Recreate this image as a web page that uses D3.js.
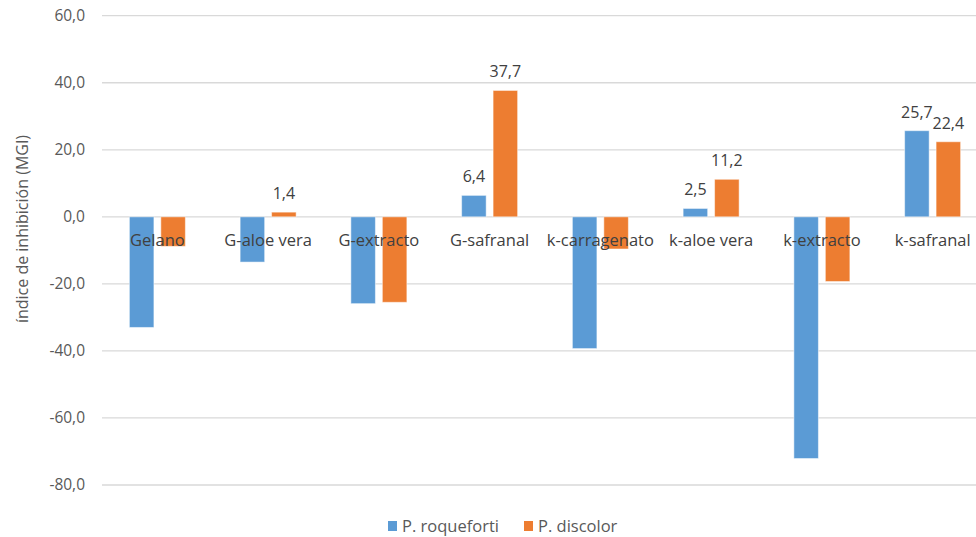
<!DOCTYPE html>
<html>
<head>
<meta charset="utf-8">
<script src="https://cdn.jsdelivr.net/npm/d3@7/dist/d3.min.js"></script>
<style>
  html, body { margin: 0; padding: 0; background: #fff; }
  svg { display: block; font-family: "Open Sans", "DejaVu Sans", sans-serif; }
</style>
</head>
<body>
<svg id="chart" width="976" height="537"></svg>
<script>
// Categories (treatments) and the two fungal series
const categories = ["Gelano", "G-aloe vera", "G-extracto", "G-safranal",
                    "k-carragenato", "k-aloe vera", "k-extracto", "k-safranal"];
const seriesNames = ["P. roqueforti", "P. discolor"];
const roqueforti = [-33.0, -13.5, -25.9, 6.4, -39.3, 2.5, -72.1, 25.7];
const discolor   = [-8.8, 1.4, -25.5, 37.7, -9.6, 11.2, -19.3, 22.4];
const yTicks = [-80, -60, -40, -20, 0, 20, 40, 60];
const colors = ["#5B9BD5", "#ED7D31"];

const svg = d3.select("#chart");

const y = d3.scaleLinear().domain([-80, 60]).range([485, 15.7]);
const x0 = d3.scaleBand().domain(categories).range([102, 988]).padding(0);
const x1 = d3.scaleBand().domain(seriesNames)
  .range([0, x0.bandwidth()]).paddingInner(0.22).paddingOuter(0.87);

const fmt = v => d3.format(".1f")(v).replace(".", ",").replace("−", "-");

// Gridlines
svg.append("g")
  .selectAll("line")
  .data(yTicks)
  .join("line")
  .attr("x1", 102).attr("x2", 976)
  .attr("y1", d => y(d)).attr("y2", d => y(d))
  .attr("stroke", "#D9D9D9").attr("stroke-width", 1.3);

// Y axis labels
const yAxis = d3.axisLeft(y).tickValues(yTicks).tickFormat(fmt).tickSize(0).tickPadding(0);
const gy = svg.append("g").attr("transform", "translate(85,0)").call(yAxis);
gy.select(".domain").remove();
gy.selectAll("text")
  .attr("fill", "#595959")
  .style("font-size", "15.5px")
  .style("font-family", "\"Open Sans\", sans-serif");

// Bars
const rows = categories.map((c, i) => ({ cat: c, values: [roqueforti[i], discolor[i]] }));
const groups = svg.append("g")
  .selectAll("g")
  .data(rows)
  .join("g")
  .attr("transform", d => `translate(${x0(d.cat)},0)`);

groups.selectAll("rect")
  .data(d => d.values.map((v, k) => ({ v, k })))
  .join("rect")
  .attr("x", d => x1(seriesNames[d.k]))
  .attr("width", x1.bandwidth())
  .attr("y", d => y(Math.max(0, d.v)))
  .attr("height", d => Math.abs(y(d.v) - y(0)))
  .attr("fill", d => colors[d.k])
  .attr("stroke", "#fff").attr("stroke-opacity", 0.5).attr("stroke-width", 1);

// Value labels on positive bars
groups.selectAll("text.val")
  .data(d => d.values.map((v, k) => ({ v, k })).filter(e => e.v > 0))
  .join("text")
  .attr("class", "val")
  .attr("x", d => x1(seriesNames[d.k]) + x1.bandwidth() / 2)
  .attr("y", d => y(d.v) - 13)
  .attr("text-anchor", "middle")
  .attr("fill", "#404040")
  .style("font-size", "16px")
  .text(d => fmt(d.v));

// Category labels just below the zero line
svg.append("g")
  .selectAll("text")
  .data(categories)
  .join("text")
  .attr("x", d => x0(d) + x0.bandwidth() / 2)
  .attr("y", y(0) + 29)
  .attr("text-anchor", "middle")
  .attr("fill", "#404040")
  .style("font-size", "16.5px")
  .text(d => d);

// Y axis title
svg.append("text")
  .attr("transform", "translate(28,229) rotate(-90)")
  .attr("text-anchor", "middle")
  .attr("fill", "#595959")
  .style("font-size", "16px")
  .text("índice de inhibición (MGI)");

// Legend
const legend = svg.append("g").attr("transform", "translate(388,521)");
const items = legend.selectAll("g")
  .data(seriesNames)
  .join("g")
  .attr("transform", (d, i) => `translate(${i * 136},0)`);
items.append("rect")
  .attr("width", 9).attr("height", 10)
  .attr("fill", (d, i) => colors[i]);
items.append("text")
  .attr("x", 14).attr("y", 10.5)
  .attr("fill", "#595959")
  .style("font-size", "16.5px")
  .text(d => d);
</script>
</body>
</html>
